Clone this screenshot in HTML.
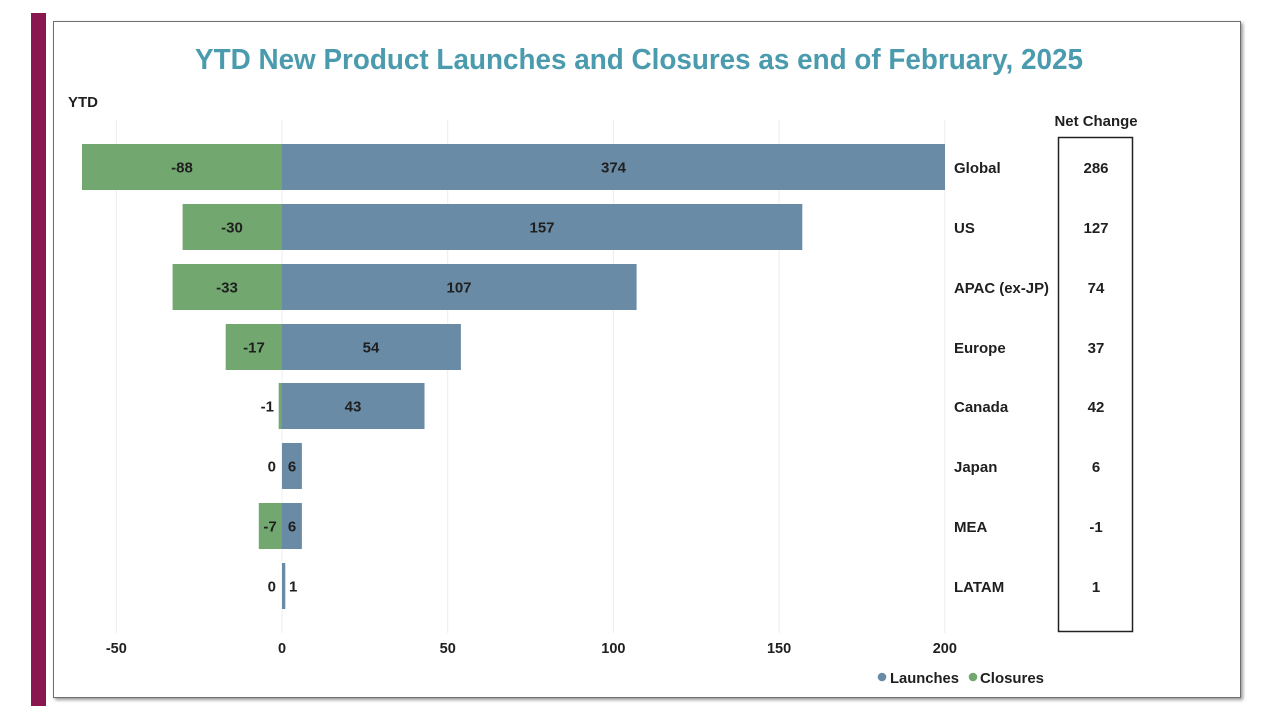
<!DOCTYPE html>
<html><head><meta charset="utf-8"><style>
html,body{margin:0;padding:0;background:#fff;}
svg{display:block;}
text{font-family:"Liberation Sans",sans-serif;font-weight:bold;fill:#1f1f1f;}
</style></head><body>
<svg width="1280" height="720" viewBox="0 0 1280 720" xmlns="http://www.w3.org/2000/svg">
<defs>
<filter id="sh" x="-5%" y="-5%" width="110%" height="110%">
<feDropShadow dx="2" dy="2" stdDeviation="1.5" flood-color="#000" flood-opacity="0.4"/>
</filter>
</defs>
<rect x="0" y="0" width="1280" height="720" fill="#fff"/>
<rect x="31" y="13" width="15" height="693" fill="#8a1650"/>
<rect x="53.5" y="21.5" width="1187" height="676" fill="#fff" stroke="#6e6e6e" stroke-width="1" filter="url(#sh)"/>

<text x="639" y="69" text-anchor="middle" font-size="29" style="fill:#4a9bad" textLength="888" lengthAdjust="spacingAndGlyphs">YTD New Product Launches and Closures as end of February, 2025</text>
<text x="68" y="107" font-size="15" textLength="30" lengthAdjust="spacingAndGlyphs">YTD</text>

<!-- gridlines -->
<g stroke="#ececec" stroke-width="1">
<line x1="116.3" y1="120" x2="116.3" y2="633"/>
<line x1="282" y1="120" x2="282" y2="633"/>
<line x1="447.7" y1="120" x2="447.7" y2="633"/>
<line x1="613.4" y1="120" x2="613.4" y2="633"/>
<line x1="779.1" y1="120" x2="779.1" y2="633"/>
<line x1="944.8" y1="120" x2="944.8" y2="633"/>
</g>

<!-- bars -->
<g fill="#72a86f">
<rect x="82" y="144" width="200" height="46"/>
<rect x="182.6" y="204" width="99.4" height="46"/>
<rect x="172.6" y="264" width="109.4" height="46"/>
<rect x="225.7" y="324" width="56.3" height="46"/>
<rect x="278.7" y="383" width="3.3" height="46"/>
<rect x="258.8" y="503" width="23.2" height="46"/>
</g>
<g fill="#6a8ba5">
<rect x="282" y="144" width="663" height="46"/>
<rect x="282" y="204" width="520.3" height="46"/>
<rect x="282" y="264" width="354.6" height="46"/>
<rect x="282" y="324" width="178.9" height="46"/>
<rect x="282" y="383" width="142.5" height="46"/>
<rect x="282" y="443" width="19.9" height="46"/>
<rect x="282" y="503" width="19.9" height="46"/>
<rect x="282" y="563" width="3.3" height="46"/>
</g>

<!-- data labels -->
<g font-size="15" text-anchor="middle">
<text x="182" y="172.5">-88</text><text x="613.5" y="172.5">374</text>
<text x="232" y="232.5">-30</text><text x="542" y="232.5">157</text>
<text x="227" y="292.5">-33</text><text x="459" y="292.5">107</text>
<text x="254" y="352.5">-17</text><text x="371" y="352.5">54</text>
<text x="274" y="411.5" text-anchor="end">-1</text><text x="353" y="411.5">43</text>
<text x="276" y="471.5" text-anchor="end">0</text><text x="292" y="471.5">6</text>
<text x="270" y="531.5">-7</text><text x="292" y="531.5">6</text>
<text x="276" y="591.5" text-anchor="end">0</text><text x="289" y="591.5" text-anchor="start">1</text>
</g>

<!-- region labels -->
<g font-size="15">
<text x="954" y="173">Global</text>
<text x="954" y="233">US</text>
<text x="954" y="293" textLength="95" lengthAdjust="spacingAndGlyphs">APAC (ex-JP)</text>
<text x="954" y="353">Europe</text>
<text x="954" y="412">Canada</text>
<text x="954" y="472">Japan</text>
<text x="954" y="532">MEA</text>
<text x="954" y="592">LATAM</text>
</g>

<!-- net change -->
<text x="1096" y="126" font-size="15" text-anchor="middle" textLength="83" lengthAdjust="spacingAndGlyphs">Net Change</text>
<rect x="1058.5" y="137.5" width="74" height="494" fill="none" stroke="#222" stroke-width="1.5"/>
<g font-size="15" text-anchor="middle">
<text x="1096" y="173">286</text>
<text x="1096" y="233">127</text>
<text x="1096" y="293">74</text>
<text x="1096" y="353">37</text>
<text x="1096" y="412">42</text>
<text x="1096" y="472">6</text>
<text x="1096" y="532">-1</text>
<text x="1096" y="592">1</text>
</g>

<!-- axis ticks -->
<g font-size="14.5" text-anchor="middle">
<text x="116.3" y="653">-50</text>
<text x="282" y="653">0</text>
<text x="447.7" y="653">50</text>
<text x="613.4" y="653">100</text>
<text x="779.1" y="653">150</text>
<text x="944.8" y="653">200</text>
</g>

<!-- legend -->
<circle cx="882" cy="677" r="4.3" fill="#6a8ba5"/>
<text x="890" y="683" font-size="15" textLength="69" lengthAdjust="spacingAndGlyphs">Launches</text>
<circle cx="973" cy="677" r="4.3" fill="#72a86f"/>
<text x="980" y="683" font-size="15" textLength="64" lengthAdjust="spacingAndGlyphs">Closures</text>
</svg>
</body></html>
